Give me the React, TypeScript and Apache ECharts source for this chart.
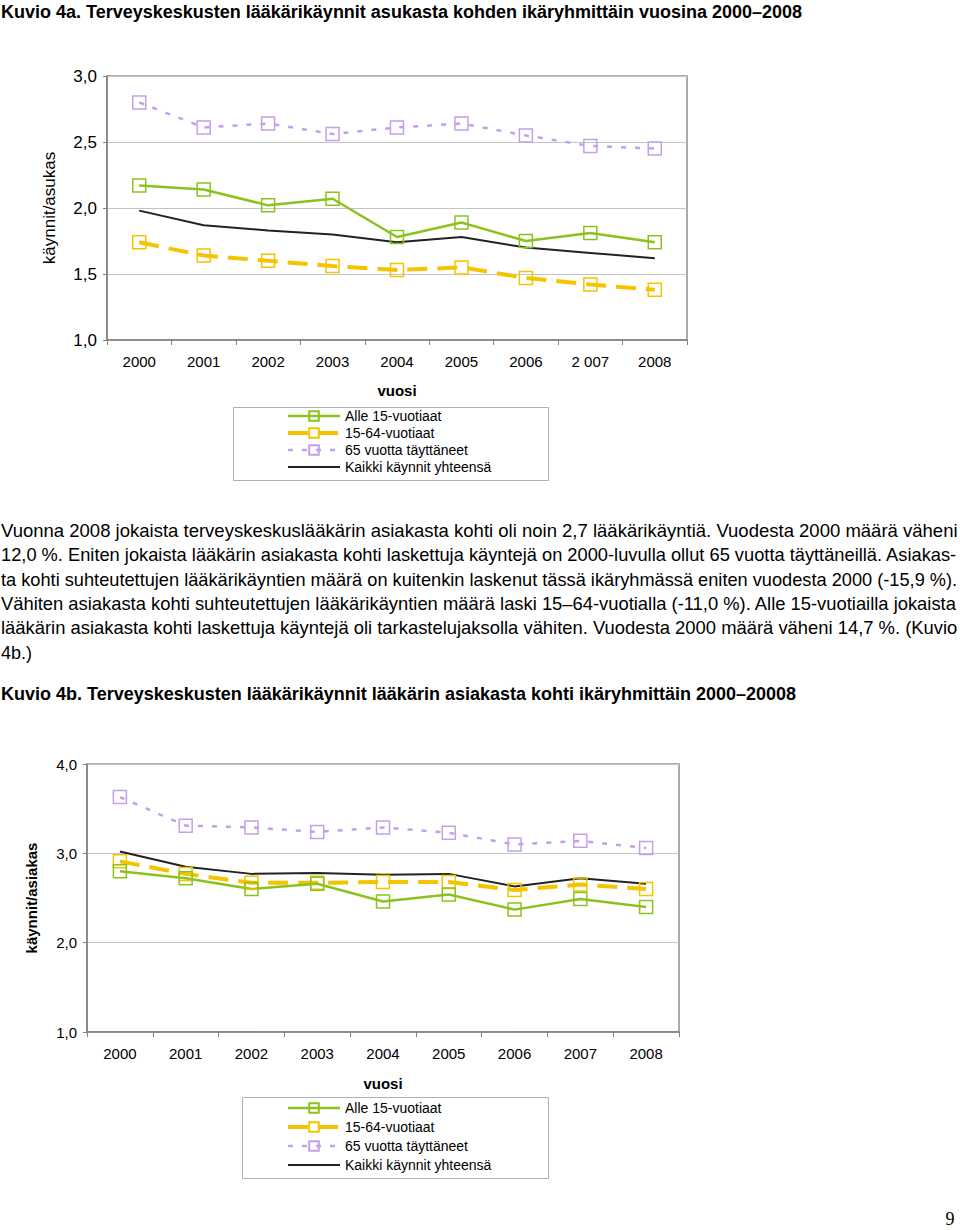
import React, { useEffect, useRef } from "react";
import * as echarts from "echarts";

const years = ["2000", "2001", "2002", "2003", "2004", "2005", "2006", "2007", "2008"];
const yearLabelsA = ["2000", "2001", "2002", "2003", "2004", "2005", "2006", "2 007", "2008"];
const seriesNames = ["Alle 15-vuotiaat", "15-64-vuotiaat", "65 vuotta täyttäneet", "Kaikki käynnit yhteensä"];

// Kuvio 4a: käynnit/asukas
const under15A = [2.17, 2.14, 2.02, 2.07, 1.78, 1.89, 1.75, 1.81, 1.74];
const age1564A = [1.74, 1.64, 1.6, 1.56, 1.53, 1.55, 1.47, 1.42, 1.38];
const over65A = [2.8, 2.61, 2.64, 2.56, 2.61, 2.64, 2.55, 2.47, 2.45];
const totalA = [1.98, 1.87, 1.83, 1.8, 1.74, 1.78, 1.7, 1.66, 1.62];

// Kuvio 4b: käynnit/asiakas
const under15B = [2.8, 2.72, 2.6, 2.66, 2.46, 2.54, 2.37, 2.49, 2.4];
const age1564B = [2.91, 2.77, 2.67, 2.67, 2.68, 2.68, 2.59, 2.65, 2.6];
const over65B = [3.63, 3.31, 3.29, 3.24, 3.29, 3.23, 3.1, 3.14, 3.06];
const totalB = [3.02, 2.85, 2.77, 2.78, 2.76, 2.77, 2.63, 2.72, 2.66];

const titleA = "Kuvio 4a. Terveyskeskusten lääkärikäynnit asukasta kohden ikäryhmittäin vuosina 2000–2008";
const titleB = "Kuvio 4b. Terveyskeskusten lääkärikäynnit lääkärin asiakasta kohti ikäryhmittäin 2000–20008";
const paragraph = [
  "Vuonna 2008 jokaista terveyskeskuslääkärin asiakasta kohti oli noin 2,7 lääkärikäyntiä. Vuodesta 2000 määrä väheni",
  "12,0 %. Eniten jokaista lääkärin asiakasta kohti laskettuja käyntejä on 2000-luvulla ollut 65 vuotta täyttäneillä. Asiakas-",
  "ta kohti suhteutettujen lääkärikäyntien määrä on kuitenkin laskenut tässä ikäryhmässä eniten vuodesta 2000 (-15,9 %).",
  "Vähiten asiakasta kohti suhteutettujen lääkärikäyntien määrä laski 15–64-vuotialla (-11,0 %). Alle 15-vuotiailla jokaista",
  "lääkärin asiakasta kohti laskettuja käyntejä oli tarkastelujaksolla vähiten. Vuodesta 2000 määrä väheni 14,7 %. (Kuvio",
  "4b.)",
];

const FONT = "'Liberation Sans', Arial, sans-serif";
const GREEN = "#8cc21e";
const YELLOW = "#f5c400";
const PURPLE = "#c4a0ea";
const BLACK = "#222222";

function lineSeries(name: string, data: number[], idx: number) {
  const styles: Record<string, any> = {
    "Alle 15-vuotiaat": { color: GREEN, width: 2.5, type: "solid", symbol: true },
    "15-64-vuotiaat": { color: YELLOW, width: 4, type: [20, 10], symbol: true },
    "65 vuotta täyttäneet": { color: PURPLE, width: 2.5, type: [5, 9], symbol: true },
    "Kaikki käynnit yhteensä": { color: BLACK, width: 2, type: "solid", symbol: false },
  };
  const s = styles[name];
  return {
    type: "line",
    name,
    xAxisIndex: idx,
    yAxisIndex: idx,
    data,
    symbol: s.symbol ? "rect" : "none",
    showSymbol: s.symbol,
    symbolSize: 13,
    itemStyle: s.symbol
      ? { color: "rgba(255,255,255,0)", borderColor: s.color, borderWidth: 1.5 }
      : { color: "rgba(255,255,255,0)", borderColor: "rgba(255,255,255,0)", borderWidth: 0 },
    lineStyle: { color: s.color, width: s.width, type: s.type },
    z: s.symbol ? 3 : 2,
  };
}

function xAxis(idx: number, labels: string[], nameGap: number) {
  return {
    type: "category",
    gridIndex: idx,
    data: labels,
    boundaryGap: true,
    name: "vuosi",
    nameLocation: "middle",
    nameGap,
    nameTextStyle: { fontFamily: FONT, fontSize: 15, fontWeight: "bold", color: "#000" },
    axisLine: { lineStyle: { color: "#808080", width: 1.5 } },
    axisTick: { show: true, length: 5, alignWithLabel: false, lineStyle: { color: "#808080" } },
    axisLabel: { fontFamily: FONT, fontSize: 15, color: "#000", margin: 14 },
  };
}

function yAxis(idx: number, min: number, max: number, interval: number, nameGap: number, bold: boolean, fs: number) {
  return {
    type: "value",
    gridIndex: idx,
    min,
    max,
    interval,
    name: idx === 0 ? "käynnit/asukas" : "käynnit/asiakas",
    nameLocation: "middle",
    nameRotate: 90,
    nameGap,
    nameTextStyle: { fontFamily: FONT, fontSize: fs, fontWeight: bold ? "bold" : "normal", color: "#000" },
    axisLine: { show: true, lineStyle: { color: "#808080", width: 1.5 } },
    axisTick: { show: true, length: 4, lineStyle: { color: "#808080" } },
    axisLabel: {
      fontFamily: FONT,
      fontSize: fs,
      color: "#000",
      margin: 10,
      formatter: (v: number) => v.toFixed(1).replace(".", ","),
    },
    splitLine: { show: true, lineStyle: { color: "#c4c4c4", width: 1 } },
  };
}

function legend(left: number, top: number, gap: number) {
  return {
    orient: "vertical",
    left,
    top,
    itemWidth: 52,
    itemHeight: 12,
    itemGap: gap,
    padding: 0,
    data: seriesNames,
    lineStyle: { width: "inherit" },
    textStyle: { fontFamily: FONT, fontSize: 14, color: "#000" },
    selectedMode: false,
  };
}

function measure(text: string, font: string): number {
  try {
    const ctx = document.createElement("canvas").getContext("2d");
    if (!ctx) return 0;
    ctx.font = font;
    return ctx.measureText(text).width;
  } catch (e) {
    return 0;
  }
}

export default function App() {
  const ref = useRef<HTMLDivElement>(null);
  useEffect(() => {
    if (!ref.current) return;
    const chart = echarts.init(ref.current, null, { renderer: "svg" });
    const pFont = `18px 'Liberation Sans', Arial, sans-serif`;
    const graphic: any[] = [
      { type: "text", x: 1, y: 12, style: { text: titleA, font: `bold 18px ${FONT}`, fill: "#000", verticalAlign: "middle" } },
      { type: "text", x: 1, y: 694, style: { text: titleB, font: `bold 18px ${FONT}`, fill: "#000", verticalAlign: "middle" } },
      { type: "rect", shape: { x: 233.5, y: 407.5, width: 315, height: 73 }, style: { fill: "none", stroke: "#b0b0b0", lineWidth: 1 } },
      { type: "rect", shape: { x: 242.5, y: 1097.5, width: 306, height: 81 }, style: { fill: "none", stroke: "#b0b0b0", lineWidth: 1 } },
      { type: "text", x: 950, y: 1219, style: { text: "9", font: `18px 'Liberation Serif', 'DejaVu Serif', serif`, fill: "#000", align: "center", verticalAlign: "middle" } },
    ];
    paragraph.forEach((line, i) => {
      let scaleX = 1;
      if (i < paragraph.length - 1) {
        const w = measure(line, pFont);
        if (w > 0) scaleX = Math.min(1.12, Math.max(0.9, 957 / w));
      }
      graphic.push({
        type: "text",
        x: 1,
        y: 531 + i * 24.3,
        scaleX,
        style: { text: line, font: pFont, fill: "#000", verticalAlign: "middle" },
      });
    });
    chart.setOption({
      animation: false,
      backgroundColor: "#fff",
      grid: [
        { left: 107, top: 76, width: 580, height: 264, show: true, borderColor: "#909090", borderWidth: 1.5, backgroundColor: "transparent" },
        { left: 87, top: 764, width: 592, height: 268, show: true, borderColor: "#909090", borderWidth: 1.5, backgroundColor: "transparent" },
      ],
      xAxis: [xAxis(0, yearLabelsA, 43), xAxis(1, years, 44)],
      yAxis: [yAxis(0, 1, 3, 0.5, 49, false, 17), yAxis(1, 1, 4, 1, 48, true, 15)],
      legend: [legend(286, 409, 3), legend(286, 1101, 5)],
      series: [
        lineSeries(seriesNames[3], totalA, 0),
        lineSeries(seriesNames[2], over65A, 0),
        lineSeries(seriesNames[1], age1564A, 0),
        lineSeries(seriesNames[0], under15A, 0),
        lineSeries(seriesNames[3], totalB, 1),
        lineSeries(seriesNames[2], over65B, 1),
        lineSeries(seriesNames[1], age1564B, 1),
        lineSeries(seriesNames[0], under15B, 1),
      ],
      graphic,
    });
    return () => chart.dispose();
  }, []);
  return <div ref={ref} style={{ position: "absolute", left: 0, top: 0, width: 960, height: 1230 }} />;
}
